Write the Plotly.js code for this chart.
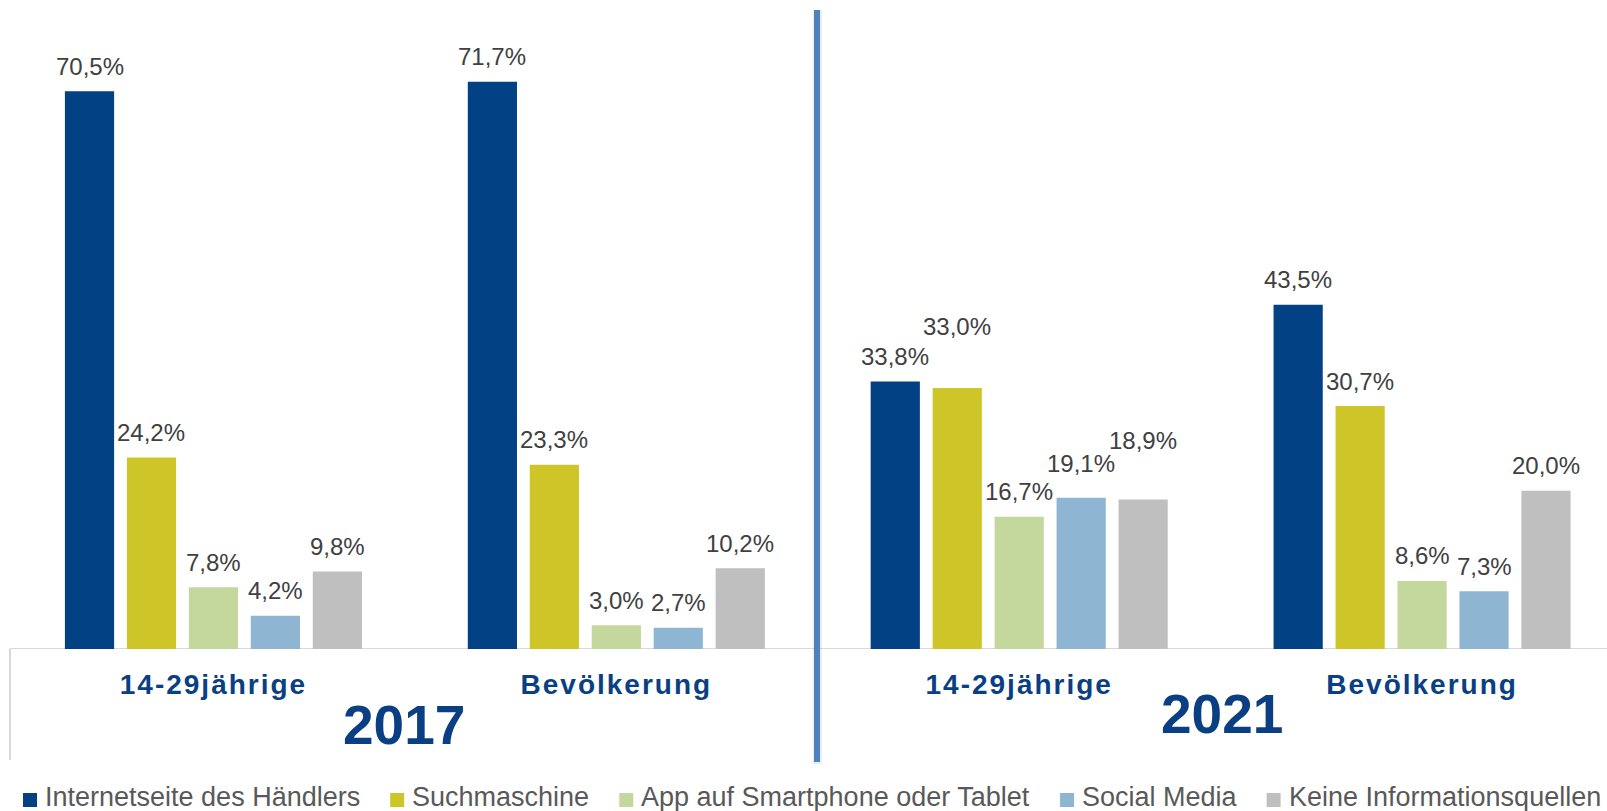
<!DOCTYPE html>
<html>
<head>
<meta charset="utf-8">
<script src="https://cdn.plot.ly/plotly-3.0.1.min.js"></script>
<style>
html,body{margin:0;padding:0;background:#ffffff;}
#chart{width:1607px;height:811px;}
#chart .xtick text{letter-spacing:2px;}
</style>
</head>
<body>
<div id="chart"></div>
<script>
// ---------- data ----------
const groups = ["14-29jährige", "Bevölkerung", "14-29jährige", "Bevölkerung"];
const years = ["2017", "2021"];
const seriesNames = [
  "Internetseite des Händlers",
  "Suchmaschine",
  "App auf Smartphone oder Tablet",
  "Social Media",
  "Keine Informationsquellen"
];
const internetseite = [70.5, 71.7, 33.8, 43.5];
const suchmaschine = [24.2, 23.3, 33.0, 30.7];
const appSmartphone = [7.8, 3.0, 16.7, 8.6];
const socialMedia = [4.2, 2.7, 19.1, 7.3];
const keineQuellen = [9.8, 10.2, 18.9, 20.0];
const seriesValues = [internetseite, suchmaschine, appSmartphone, socialMedia, keineQuellen];

// ---------- styling / layout ----------
const colors = ["#024184", "#cec528", "#c4d79c", "#8eb6d3", "#bfbfbf"];
const FONT = "Liberation Sans, Arial, Helvetica, sans-serif";
const W = 1607, H = 811;
const M = {l: 12, r: 0, t: 16, b: 162};
const plotW = W - M.l - M.r, plotH = H - M.t - M.b;
const xRange = [-0.5, 3.459];
const yRange = [0, 80];
const bargap = 0.231, bargroupgap = 0.206;
// extra lift (px) of a few value labels that were staggered in the original
const labelLift = [
  [0, 0, 0, 0],
  [0, 0, 36, 0],
  [0, 0, 0, 0],
  [0, 0, 9, 0],
  [0, 0, 34, 0]
];

const xIdx = groups.map((g, i) => i);
const pxPerUnit = plotW / (xRange[1] - xRange[0]);
const slot = pxPerUnit * (1 - bargap) / seriesNames.length;
const px2paperX = p => (p - M.l) / plotW;
const px2paperY = p => (H - M.b - p) / plotH;

const traces = seriesNames.map((name, i) => ({
  type: "bar",
  name: name,
  x: xIdx,
  y: seriesValues[i],
  marker: {color: colors[i], line: {width: 0}},
  hoverinfo: "name+y",
  showlegend: false
}));

const fmt = v => v.toFixed(1).replace(".", ",") + "%";

const annotations = [];
seriesValues.forEach((vals, i) => {
  vals.forEach((v, j) => {
    annotations.push({
      x: xIdx[j], y: v, xref: "x", yref: "y",
      xshift: (i - (seriesNames.length - 1) / 2) * slot,
      yshift: 25 + labelLift[i][j],
      text: fmt(v), showarrow: false,
      xanchor: "center", yanchor: "middle",
      font: {family: FONT, size: 24, color: "#404040"}
    });
  });
});

// year labels
const yearPos = [{x: 0.4735, y: px2paperY(725)}, {x: 2.503, y: px2paperY(714)}];
years.forEach((yr, k) => {
  annotations.push({
    x: yearPos[k].x, y: yearPos[k].y, xref: "x", yref: "paper",
    text: yr, showarrow: false, xanchor: "center", yanchor: "middle",
    font: {family: FONT, size: 55, color: "#0a3f84", weight: "bold"}
  });
});

// manual legend in one row
const legendFontSize = 27;
const ctx = document.createElement("canvas").getContext("2d");
ctx.font = legendFontSize + "px 'Liberation Sans', Arial";
const shapes = [];
let textX = 43;
const legendY = 797;
seriesNames.forEach((name, i) => {
  shapes.push({
    type: "rect", xref: "paper", yref: "paper", layer: "above",
    x0: px2paperX(textX - 20), x1: px2paperX(textX - 6),
    y0: px2paperY(807), y1: px2paperY(793),
    fillcolor: colors[i], line: {width: 0}
  });
  annotations.push({
    x: px2paperX(textX), y: px2paperY(legendY), xref: "paper", yref: "paper",
    text: name, showarrow: false, xanchor: "left", yanchor: "middle",
    font: {family: FONT, size: legendFontSize, color: "#595959"}
  });
  textX += ctx.measureText(name).width + 52;
});

// axis base line and frame
shapes.push({type: "line", xref: "paper", yref: "y", x0: px2paperX(10), x1: 1, y0: 0, y1: 0,
  line: {color: "#d9d9d9", width: 2}, layer: "below"});
shapes.push({type: "line", xref: "paper", yref: "paper", x0: px2paperX(10), x1: px2paperX(10),
  y0: 0, y1: px2paperY(760), line: {color: "#d9d9d9", width: 2}});
// divider between years (with soft shadow)
shapes.push({type: "line", xref: "paper", yref: "paper", x0: px2paperX(817.5), x1: px2paperX(817.5),
  y0: px2paperY(764), y1: px2paperY(10), line: {color: "rgba(0,0,0,0.07)", width: 9}, layer: "above"});
shapes.push({type: "line", xref: "paper", yref: "paper", x0: px2paperX(817), x1: px2paperX(817),
  y0: px2paperY(762), y1: px2paperY(10), line: {color: "#4f81bd", width: 6}, layer: "above"});

const layout = {
  width: W, height: H,
  margin: M,
  paper_bgcolor: "#ffffff", plot_bgcolor: "#ffffff",
  barmode: "group", bargap: bargap, bargroupgap: bargroupgap,
  showlegend: false,
  xaxis: {
    range: xRange, tickmode: "array", tickvals: xIdx, ticktext: groups,
    showgrid: false, zeroline: false, showline: false, ticks: "",
    ticklabelstandoff: 16,
    tickfont: {family: FONT, size: 28, color: "#0a3f84", weight: "bold"},
    fixedrange: true
  },
  yaxis: {range: yRange, visible: false, showgrid: false, zeroline: false, fixedrange: true},
  annotations: annotations,
  shapes: shapes
};

Plotly.newPlot("chart", traces, layout, {displayModeBar: false, staticPlot: true});
</script>
</body>
</html>
